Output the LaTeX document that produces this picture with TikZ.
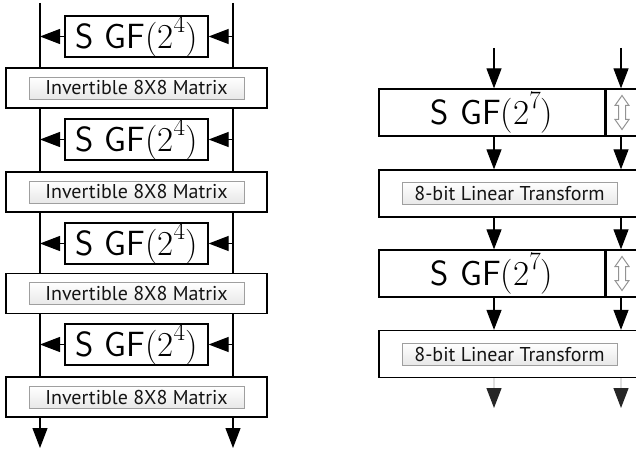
\RequirePackage{fix-cm}
\documentclass[tikz,border=0pt]{standalone}
\usepackage{fontspec}
\newfontfamily\labfont{PT Sans}
\usetikzlibrary{arrows.meta}
\newcommand\gfsup[1]{\textsf{S GF}{\rmfamily(2\raisebox{0.45em}{\fontsize{25}{27}\selectfont #1})}}
\begin{document}
\begin{tikzpicture}[x=1pt,y=-1pt,
  line/.style={line width=1.2pt},
  arr/.style={line width=1.2pt,-{Triangle[length=20pt,width=15pt]}},
  sbox/.style={draw,line width=1.3pt,inner sep=0pt,minimum width=143pt,minimum height=41pt,
    font=\fontsize{35}{40}\selectfont},
  rsbox/.style={sbox,minimum width=226pt,minimum height=47pt},
  xbox/.style={draw,line width=1.3pt,inner sep=0pt,minimum width=54pt,minimum height=47pt},
  mbox/.style={draw,line width=1.3pt,inner sep=0pt,minimum width=261pt,minimum height=40pt},
  tbox/.style={mbox,minimum width=281pt,minimum height=47pt},
  labbox/.style={draw=gray!75,line width=0.6pt,top color=white,bottom color=gray!18,
    inner sep=0pt,minimum width=215pt,minimum height=22pt,text=black!92,
    font=\labfont\fontsize{20}{22}\selectfont},
  dbl/.style={draw=gray!85,fill=white,line width=1pt}
]
\useasboundingbox (0,0) rectangle (636,454);
\clip (0,0) rectangle (636,454);
% ---------- left ----------
\coordinate (t1) at (40,3);
\coordinate (t2) at (233,3);
\coordinate (b1) at (40,448);
\coordinate (b2) at (233,448);
\foreach \i/\sy/\my in {1/36.5/88, 2/139.5/192, 3/243.5/293.5, 4/344.5/397}{
  \node[sbox] (s\i) at (136.5,\sy) {\gfsup{4}};
  \node[mbox] (m\i) at (136.5,\my) {};
  \node[labbox] (ml\i) at (m\i.center) {Invertible 8X8 Matrix};
}
\draw[line] (t1) -- (m1.north -| t1);
\draw[line] (t2) -- (m1.north -| t2);
\foreach \a/\b in {1/2,2/3,3/4}{
  \draw[line] (m\a.south -| t1) -- (m\b.north -| t1);
  \draw[line] (m\a.south -| t2) -- (m\b.north -| t2);
}
\foreach \i in {1,2,3,4}{
  \draw[arr] (s\i.west) -- (s\i.west -| t1);
  \draw[arr] (s\i.east -| t2) -- (s\i.east);
}
\draw[arr] (m4.south -| t1) -- (b1);
\draw[arr] (m4.south -| t2) -- (b2);
% ---------- right ----------
\coordinate (u1) at (494,48);
\coordinate (u2) at (621,48);
\coordinate (d1) at (494,408);
\coordinate (d2) at (621,408);
\foreach \i/\sy/\ty in {1/112.5/193.5, 2/273.5/354}{
  \node[rsbox] (rs\i) at (492,\sy) {\gfsup{7}};
  \node[xbox] (rx\i) at (633,\sy) {};
  \node[tbox] (rt\i) at (519.5,\ty) {};
  \node[labbox] (rl\i) at (509.5,\ty) {8-bit Linear Transform};
  \begin{scope}[shift={(622,\sy)}]
    \draw[dbl] (0,-17) -- (7,-7) -- (3.5,-7) -- (3.5,7) -- (7,7) -- (0,17)
      -- (-7,7) -- (-3.5,7) -- (-3.5,-7) -- (-7,-7) -- cycle;
  \end{scope}
}
\draw[arr] (u1) -- (rs1.north -| u1);
\draw[arr] (u2) -- (rx1.north -| u2);
\draw[arr] (rs1.south -| u1) -- (rt1.north -| u1);
\draw[arr] (rx1.south -| u2) -- (rt1.north -| u2);
\draw[arr] (rt1.south -| u1) -- (rs2.north -| u1);
\draw[arr] (rt1.south -| u2) -- (rx2.north -| u2);
\draw[arr] (rs2.south -| u1) -- (rt2.north -| u1);
\draw[arr] (rx2.south -| u2) -- (rt2.north -| u2);
\draw[line,draw=gray!25,-{Triangle[length=20pt,width=15pt,color=black!85]}] (rt2.south -| u1) -- (d1);
\draw[line,draw=gray!25,-{Triangle[length=20pt,width=15pt,color=black!85]}] (rt2.south -| u2) -- (d2);
\end{tikzpicture}
\end{document}
